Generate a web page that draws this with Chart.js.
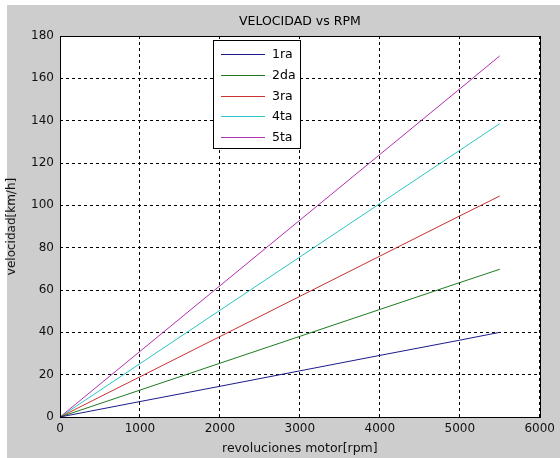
<!DOCTYPE html>
<html>
<head>
<meta charset="utf-8">
<script src="https://cdn.jsdelivr.net/npm/chart.js@4"></script>
<style>
  html, body { margin: 0; padding: 0; background: #ffffff; }
  #wrap { position: absolute; left: 0; top: 0; width: 560px; height: 458px; }
</style>
</head>
<body>
<div id="wrap"><canvas id="chart" width="560" height="458"></canvas></div>
<script>
// rpm points
const rpm = [0, 1000, 2000, 3000, 4000, 5000, 5500];

// velocity per gear [km/h]
const primera = [0, 7.3, 14.5, 21.8, 29.1, 36.3, 40.0];
const segunda = [0, 12.7, 25.4, 38.1, 50.8, 63.5, 69.8];
const tercera = [0, 19.0, 38.0, 57.0, 76.0, 95.0, 104.4];
const cuarta = [0, 25.2, 50.4, 75.6, 100.8, 126.0, 138.6];
const quinta = [0, 31.0, 62.0, 93.0, 124.0, 155.0, 170.6];

const gearNames = ['1ra', '2da', '3ra', '4ta', '5ta'];
const gearColors = ['#1c1c8c', '#1e7a1e', '#c83232', '#2cc4c4', '#b030b0'];
const gearValues = [primera, segunda, tercera, cuarta, quinta];

const FONT = '"DejaVu Sans", Verdana, sans-serif';

function toPoints(vals) {
    return vals.map((v, i) => ({ x: rpm[i], y: v }));
}

// grey figure background, plot box, title and legend
const figure = {
    id: 'figure',
    beforeDraw(chart) {
        const ctx = chart.ctx;
        ctx.save();
        ctx.fillStyle = '#ffffff';
        ctx.fillRect(0, 0, chart.width, chart.height);
        ctx.fillStyle = '#cdcdcd';
        ctx.fillRect(7, 5, chart.width - 7, chart.height - 5);
        const a = chart.chartArea;
        ctx.fillStyle = '#ffffff';
        ctx.fillRect(a.left, a.top, a.right - a.left, a.bottom - a.top);
        ctx.restore();
    },
    afterDatasetsDraw(chart) {
        const ctx = chart.ctx;
        const a = chart.chartArea;
        ctx.save();
        ctx.strokeStyle = '#000000';
        ctx.lineWidth = 1;
        ctx.setLineDash([]);
        ctx.strokeRect(Math.round(a.left) + 0.5, Math.round(a.top) + 0.5,
            Math.round(a.right - a.left), Math.round(a.bottom - a.top));

        // title
        ctx.fillStyle = '#000000';
        ctx.font = '12.5px ' + FONT;
        ctx.textAlign = 'center';
        ctx.textBaseline = 'middle';
        ctx.fillText('VELOCIDAD vs RPM', (a.left + a.right) / 2, 22);

        // legend box
        const lx = 213, ly = 40, lw = 87, lh = 108;
        ctx.fillStyle = '#ffffff';
        ctx.fillRect(lx, ly, lw, lh);
        ctx.strokeStyle = '#000000';
        ctx.strokeRect(lx + 0.5, ly + 0.5, lw, lh);
        ctx.font = '12.5px ' + FONT;
        ctx.textAlign = 'left';
        chart.data.datasets.forEach((ds, i) => {
            const y = Math.round(54 + i * 20.8);
            ctx.strokeStyle = ds.borderColor;
            ctx.beginPath();
            ctx.moveTo(221, y + 0.5);
            ctx.lineTo(265, y + 0.5);
            ctx.stroke();
            ctx.fillStyle = '#000000';
            ctx.fillText(ds.label, 272, y + 1);
        });
        ctx.restore();
    }
};

new Chart(document.getElementById('chart'), {
    type: 'line',
    data: {
        datasets: gearNames.map((name, i) => ({
            label: name,
            data: toPoints(gearValues[i]),
            borderColor: gearColors[i],
            borderWidth: 1,
            pointRadius: 0,
            fill: false,
            tension: 0
        }))
    },
    plugins: [figure],
    options: {
        responsive: false,
        animation: false,
        layout: { padding: { top: 36, right: 19, left: 0, bottom: 0 } },
        plugins: {
            legend: { display: false },
            title: { display: false },
            tooltip: { enabled: false }
        },
        scales: {
            x: {
                type: 'linear',
                min: 0,
                max: 6000,
                ticks: {
                    stepSize: 1000,
                    color: '#111111',
                    font: { family: FONT, size: 12 },
                    padding: 5,
                    maxRotation: 0,
                    callback: (v) => String(v)
                },
                grid: {
                    color: '#000000',
                    lineWidth: 1,
                    drawTicks: false
                },
                border: { display: false, dash: [3, 3] },
                title: {
                    display: true,
                    text: 'revoluciones motor[rpm]',
                    color: '#111111',
                    font: { family: FONT, size: 12.5 },
                    padding: { top: 0, bottom: 2 }
                },
                afterFit(scale) { scale.height = 41; }
            },
            y: {
                min: 0,
                max: 180,
                ticks: {
                    stepSize: 20,
                    color: '#111111',
                    font: { family: FONT, size: 12 },
                    padding: 6
                },
                grid: {
                    color: '#000000',
                    lineWidth: 1,
                    drawTicks: false
                },
                border: { display: false, dash: [3, 3] },
                title: {
                    display: true,
                    text: 'velocidad[km/h]',
                    color: '#111111',
                    font: { family: FONT, size: 12 },
                    padding: { top: 5, bottom: 0 }
                },
                afterFit(scale) { scale.width = 60; }
            }
        }
    }
});
</script>
</body>
</html>
